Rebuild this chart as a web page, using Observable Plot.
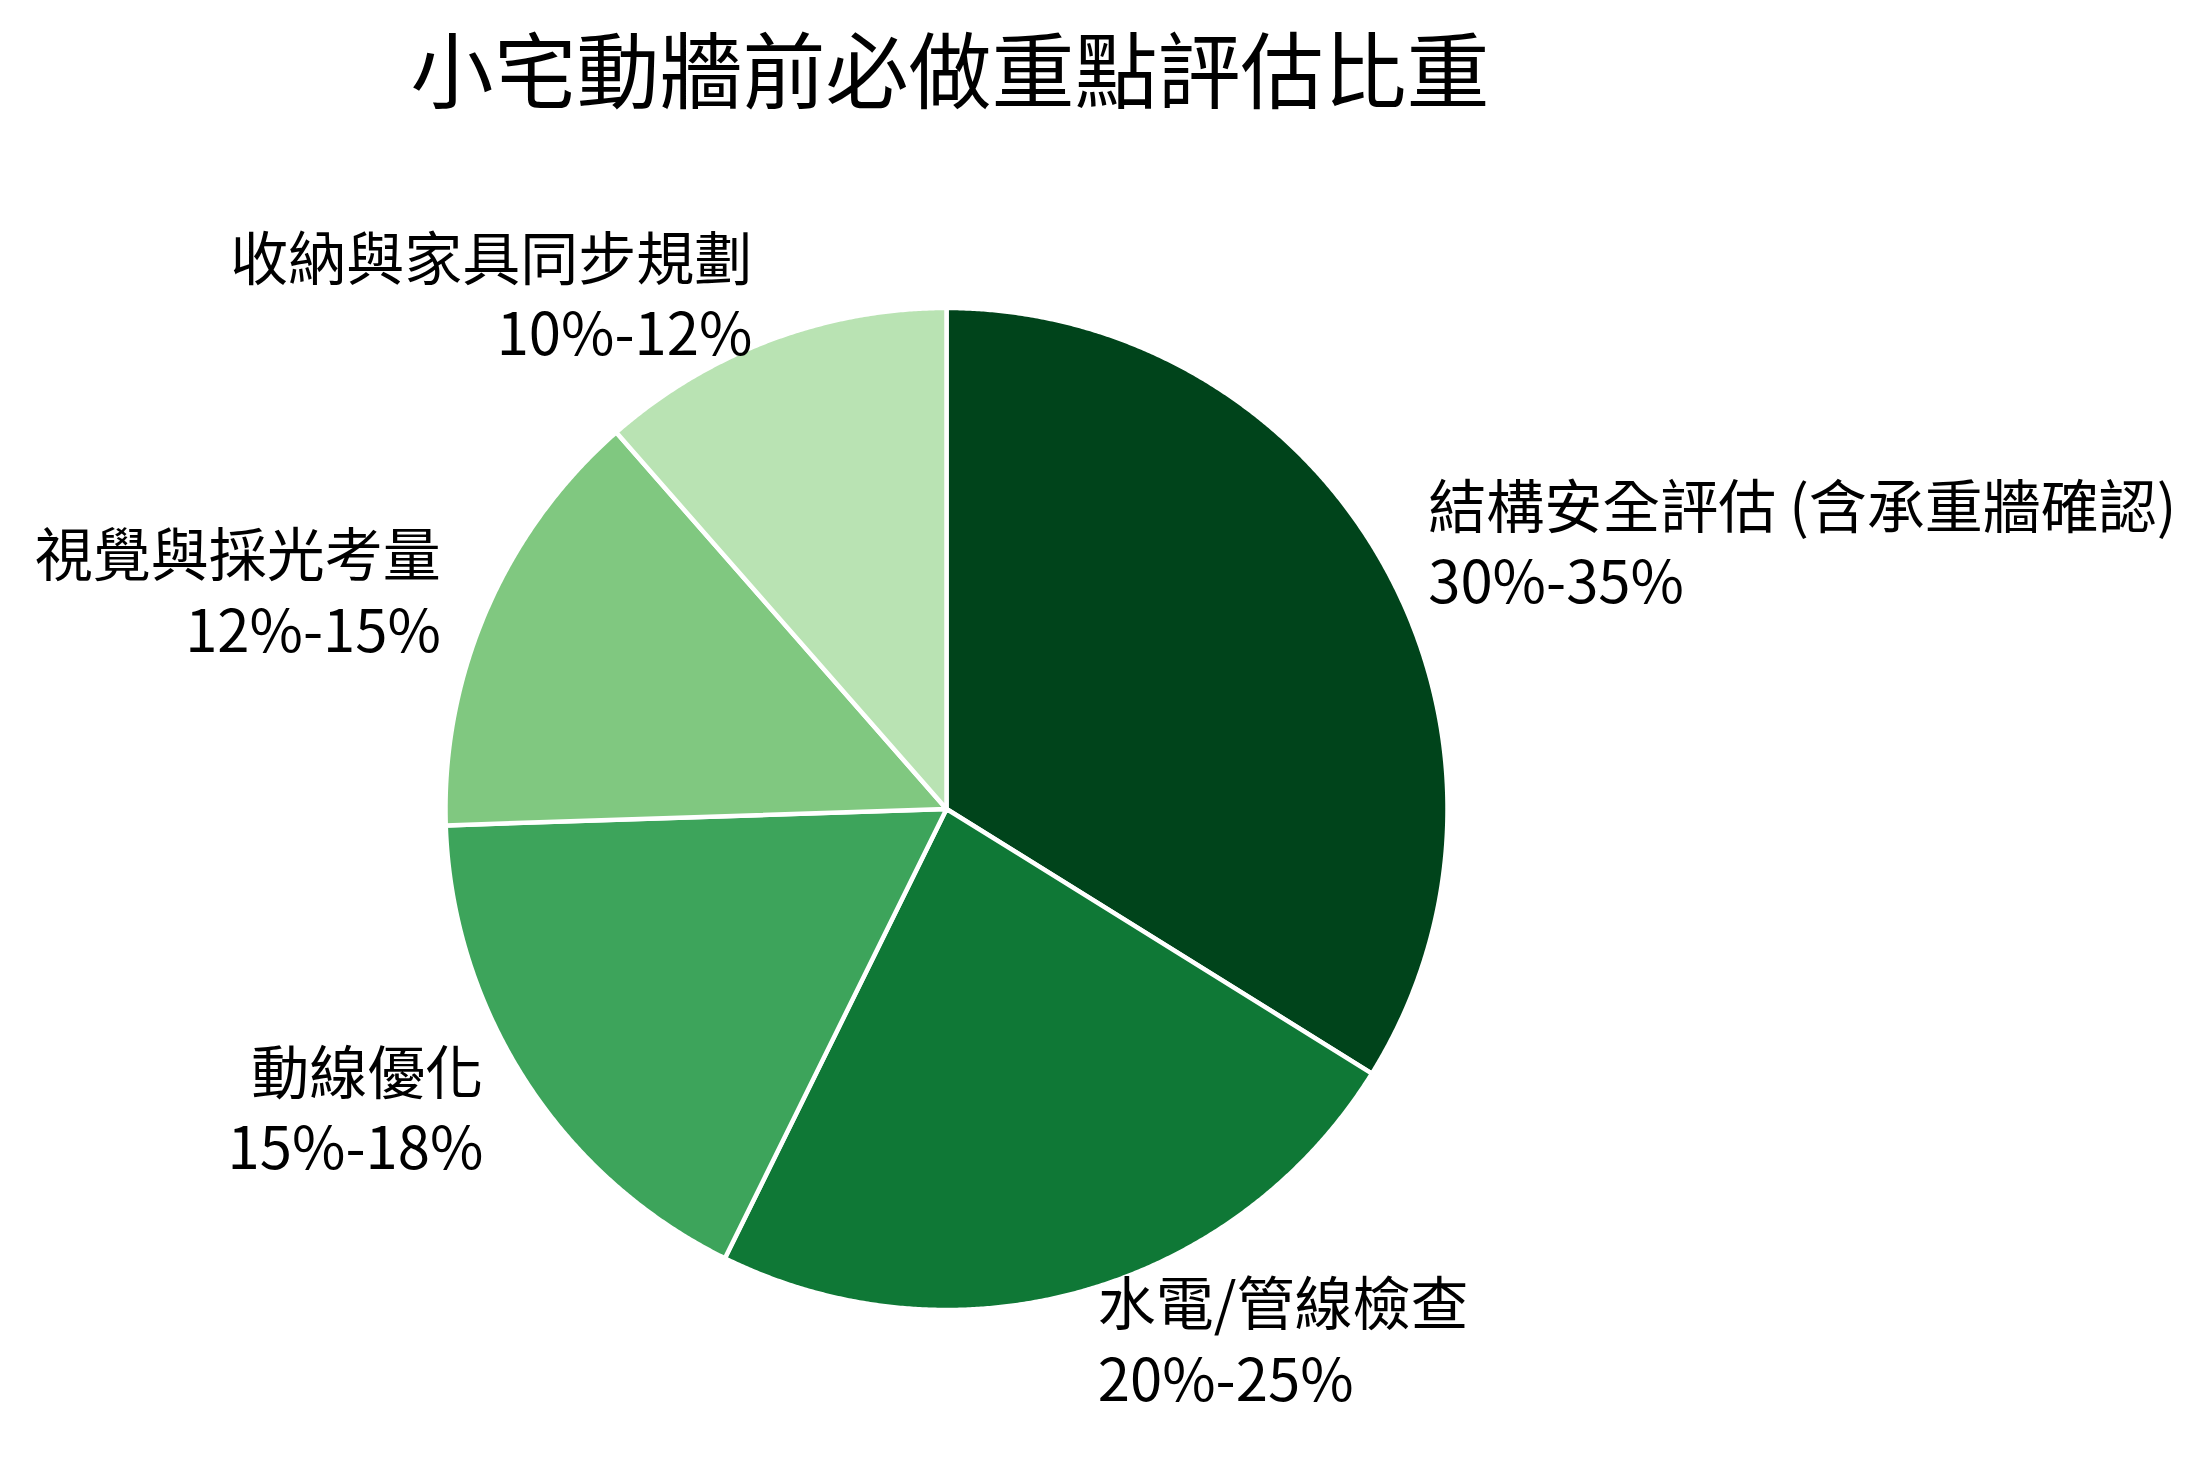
<!DOCTYPE html>
<html>
<head>
<meta charset="utf-8">
<script src="https://cdn.jsdelivr.net/npm/d3@7"></script>
<script src="https://cdn.jsdelivr.net/npm/@observablehq/plot@0.6"></script>
<style>
  html, body { margin: 0; padding: 0; background: #ffffff; }
  #wrap { width: 2212px; background: #ffffff; }
  #title {
    height: 130px; width: 1900px; position: relative;
    font-family: "Noto Sans CJK TC", "Noto Sans CJK SC", sans-serif;
    font-size: 83px; color: #000; text-align: center;
  }
  #title span { position: absolute; left: 0; right: 0; top: 20px; line-height: 92px; }
</style>
</head>
<body>
<div id="wrap">
  <div id="title"><span>小宅動牆前必做重點評估比重</span></div>
  <div id="chart"></div>
</div>
<script>
const categories = ["結構安全評估 (含承重牆確認)", "水電/管線檢查", "動線優化", "視覺與採光考量", "收納與家具同步規劃"];
const rangeLabels = ["30%-35%", "20%-25%", "15%-18%", "12%-15%", "10%-12%"];
const weights = [32.5, 22.5, 16.5, 13.5, 11];
const colors = ["#00441b", "#0f7836", "#3da45b", "#80c880", "#b9e3b3"];

const W = 2212, H = 1338;
const CX = 946, CY = 678.5, R = 501;
const labelDist = 1.1;

const data = categories.map((c, i) => ({cat: c, range: rangeLabels[i], weight: weights[i]}));
const arcs = d3.pie().sort(null).value(d => d.weight)(data);

// polygon points for each slice (unit circle, angle 0 at top, clockwise)
const pts = [];
for (const a of arcs) {
  const cat = a.data.cat;
  pts.push({cat, x: 0, y: 0});
  const n = Math.max(2, Math.ceil((a.endAngle - a.startAngle) / (Math.PI / 720)));
  for (let k = 0; k <= n; k++) {
    const t = a.startAngle + (a.endAngle - a.startAngle) * k / n;
    pts.push({cat, x: Math.sin(t), y: Math.cos(t)});
  }
  pts.push({cat, x: 0, y: 0});
}

const labels = arcs.map(a => {
  const m = (a.startAngle + a.endAngle) / 2;
  return {x: labelDist * Math.sin(m), y: labelDist * Math.cos(m), text: a.data.cat + "\n" + a.data.range};
});

const font = '"Noto Sans CJK TC", "Noto Sans CJK SC", sans-serif';
const textOpts = {x: "x", y: "y", text: "text", fontSize: 58, lineHeight: 1.3, lineAnchor: "middle", fill: "#000", fontFamily: font};

const chart = Plot.plot({
  width: W,
  height: H,
  margin: 0,
  style: {background: "#ffffff", fontFamily: font},
  x: {type: "linear", domain: [-1, 1], range: [CX - R, CX + R], axis: null},
  y: {type: "linear", domain: [1, -1], range: [CY - R, CY + R], axis: null},
  color: {domain: categories, range: colors},
  marks: [
    Plot.line(pts, {x: "x", y: "y", z: "cat", fill: "cat", stroke: "#ffffff", strokeWidth: 4.5, strokeLinejoin: "round"}),
    Plot.text(labels.filter(d => d.x >= 0), {...textOpts, textAnchor: "start"}),
    Plot.text(labels.filter(d => d.x < 0), {...textOpts, textAnchor: "end"})
  ]
});
document.getElementById("chart").appendChild(chart);
</script>
</body>
</html>
